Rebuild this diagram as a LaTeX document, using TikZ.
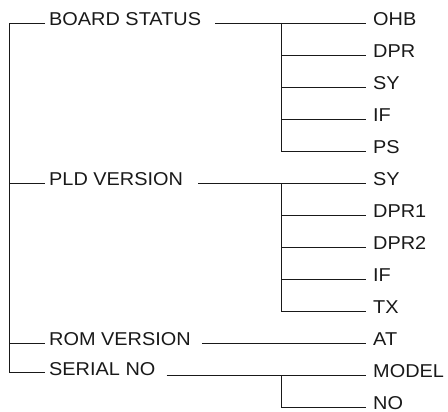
\documentclass[tikz,border=0pt]{standalone}
\usepackage{fontspec}
\setmainfont{Liberation Sans}[FakeStretch=1.07]
\begin{document}
\begin{tikzpicture}[x=1pt,y=1pt,
  lbl/.style={anchor=base west,inner sep=0pt,text=black!90,
    font=\fontsize{18.6}{22}\selectfont},
  conn/.style={line width=0.9pt,draw=black!90}]
\useasboundingbox (0,0) rectangle (448,412);
\def\ry#1{412-23-32.04*#1-2.3}
% left labels
\node[lbl] (board)  at (49,{\ry{0}}) {BOARD STATUS};
\node[lbl] (pld)    at (49,{\ry{5}}) {PLD VERSION};
\node[lbl] (rom)    at (49,{\ry{10}}) {ROM VERSION};
\node[lbl] (serial) at (49,{\ry{10.92}}) {SERIAL NO};
% right labels
\node[lbl] (ohb)  at (373,{\ry{0}}) {OHB};
\node[lbl] (dpr)  at (373,{\ry{1}}) {DPR};
\node[lbl] (syA)  at (373,{\ry{2}}) {SY};
\node[lbl] (ifA)  at (373,{\ry{3}}) {IF};
\node[lbl] (ps)   at (373,{\ry{4}}) {PS};
\node[lbl] (syB)  at (373,{\ry{5}}) {SY};
\node[lbl] (dprA) at (373,{\ry{6}}) {DPR1};
\node[lbl] (dprB) at (373,{\ry{7}}) {DPR2};
\node[lbl] (ifB)  at (373,{\ry{8}}) {IF};
\node[lbl] (tx)   at (373,{\ry{9}}) {TX};
\node[lbl] (at)   at (373,{\ry{10}}) {AT};
\node[lbl] (model) at (373,{\ry{11}}) {MODEL};
\node[lbl] (no)   at (373,{\ry{12}}) {NO};
% connector ends
\foreach \n in {board,pld,rom,serial}
  \coordinate (\n-in) at ([shift={(-4pt,2.3pt)}]\n.base west);
\foreach \n in {ohb,dpr,syA,ifA,ps,syB,dprA,dprB,ifB,tx,at,model,no}
  \coordinate (\n-in) at ([shift={(-7pt,2.3pt)}]\n.base west);
\coordinate (board-out)  at ([shift={(14pt,2.3pt)}]board.base east);
\coordinate (pld-out)    at ([shift={(15pt,2.3pt)}]pld.base east);
\coordinate (rom-out)    at ([shift={(11pt,2.3pt)}]rom.base east);
\coordinate (serial-out) at ([xshift=11pt]serial.base east);
\coordinate (lx) at (9,0);
\coordinate (bx) at (281,0);
% left spine
\draw[conn] (board-in) -| (lx |- serial-in) -- (serial-in);
\draw[conn] (lx |- pld-in) -- (pld-in);
\draw[conn] (lx |- rom-in) -- (rom-in);
% board status
\draw[conn] (board-out) -- (ohb-in);
\draw[conn] (bx |- ohb-in) |- (ps-in);
\foreach \n in {dpr,syA,ifA} \draw[conn] (bx |- \n-in) -- (\n-in);
% pld version
\draw[conn] (pld-out) -- (syB-in);
\draw[conn] (bx |- syB-in) |- (tx-in);
\foreach \n in {dprA,dprB,ifB} \draw[conn] (bx |- \n-in) -- (\n-in);
% rom version
\draw[conn] (rom-out) -- (at-in);
% serial no
\draw[conn] (serial-out |- model-in) -- (model-in);
\draw[conn] (bx |- model-in) |- (no-in);
\end{tikzpicture}
\end{document}
